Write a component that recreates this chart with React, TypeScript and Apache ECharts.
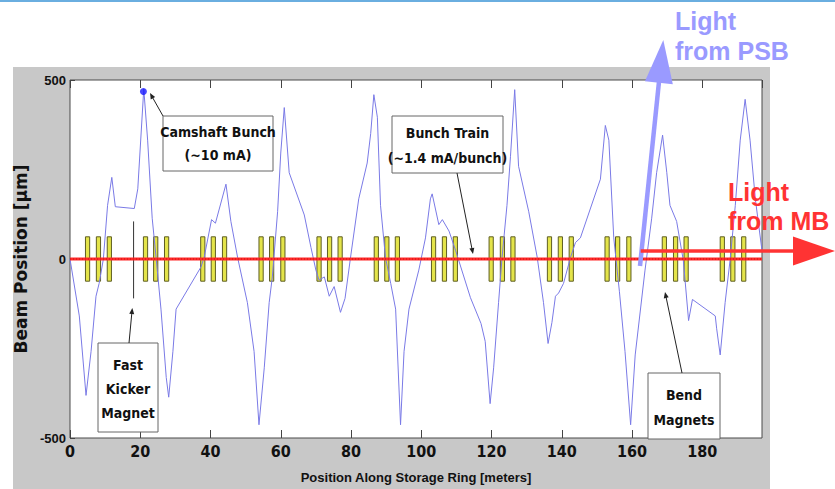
import React, { useEffect, useRef } from "react";
import * as echarts from "echarts";

// Beam trace: [position (m), beam position (µm)]
const traceX = [
  0, 2.65, 4.56, 6.0, 7.4, 8.3, 9.5, 10.7, 11.9, 12.9, 18.3, 19.3, 21.0, 22.1, 23.4, 24.5, 25.9, 27.4, 28.1, 29.3,
  30.2, 37.3, 38.2, 40.3, 41.4, 44.4, 45.8, 47.7, 50.5, 52.4, 53.8, 55.3, 56.7, 57.6, 59.1, 60.0, 61.0, 62.4, 66.7,
  68.6, 70.0, 70.9, 72.4, 73.8, 75.2, 77.0, 78.3, 79.8, 82.2, 84.6, 85.6, 86.5, 87.5, 88.4, 89.8, 91.3, 92.7, 94.1,
  95.1, 96.5, 99.3, 101.2, 102.6, 103.1, 105.0, 106.0, 107.9, 109.8, 114.0, 117.0, 118.2, 119.6, 120.6, 122.0, 123.0,
  124.4, 125.4, 126.6, 127.7, 130.6, 133.0, 134.8, 136.1, 137.2, 138.2, 139.1, 140.5, 142.5, 143.9, 145.3, 151.0,
  152.4, 153.4, 154.8, 156.4, 158.0, 159.6, 160.9, 163.7, 165.6, 167.0, 168.7, 169.9, 170.8, 172.7, 174.6, 176.1,
  177.2, 183.7, 184.1, 185.1, 186.5, 187.9, 189.4, 190.8, 192.2, 193.6, 195.1, 197.0,
];
const traceY = [
  0, -159, -381, -258, -104, -68, 0, 150, 228, 146, 141, 196, 475, 332, 114, 5, -140, -331, -386, -258,
  -140, -22, 5, 110, 100, 209, 105, 5, -122, -258, -463, -304, -122, -50, 132, 296, 423, 241, 123,
  32, -31, -59, -50, -104, -77, -149, -110, 0, 168, 268, 350, 459, 396, 150, 5, -68, -140, -463,
  -258, -140, -31, 59, 168, 182, 96, 110, 78, 23, -108, -180, -230, -404, -304, -122, 5,
  150, 287, 473, 259, 132, 5, -122, -236, -177, -104, -95, -68, 5, 46, 59, 223,
  373, 332, 59, -90, -258, -463, -268, -31, 114, 241, 346, 241, 150, 105, -4, -172,
  -113, -159, -195, -268, -122, -4, 150, 332, 446, 332, 168, 23,
];

// Bend magnet centres (m)
const magnets = [
  5.0, 8.1, 11.2, 21.5, 24.4, 27.5, 37.8, 40.8, 44.0, 54.4, 57.4, 60.6, 70.9, 73.9, 76.9, 87.2, 90.2, 93.2,
  103.5, 106.6, 109.7, 119.9, 123.1, 126.1, 136.5, 139.6, 142.7, 152.9, 155.9, 159.1, 169.2, 172.4, 175.4,
  185.7, 188.7, 191.8,
];
const magnetHalfHeight = 62;
const kickerX = 18.1;
const kickerRange = [105, -110];
const camshaftPoint = [20.9, 468];
const xTicks = { min: 0, max: 197, interval: 20 };
const yTicks = { min: -500, max: 500, interval: 500 };

const narrow = "'Liberation Sans Narrow', 'DejaVu Sans Condensed', 'Liberation Sans', sans-serif";
const sans = "'Liberation Sans', Arial, sans-serif";

function annoText(text: string, x: number, y: number) {
  return {
    type: "text",
    z: 50,
    style: {
      text,
      x,
      y,
      fill: "#111",
      font: `bold 14px ${narrow}`,
      textAlign: "center",
      textVerticalAlign: "middle",
    },
  };
}
function box(x: number, y: number, w: number, h: number) {
  return {
    type: "rect",
    z: 49,
    shape: { x, y, width: w, height: h },
    style: { fill: "#fff", stroke: "#666", lineWidth: 1 },
  };
}
function arrow(x1: number, y1: number, x2: number, y2: number, color: string, width: number, head: number, headW: number) {
  const dx = x2 - x1;
  const dy = y2 - y1;
  const len = Math.sqrt(dx * dx + dy * dy);
  const ux = dx / len;
  const uy = dy / len;
  const bx = x2 - ux * head;
  const by = y2 - uy * head;
  const px = -uy * headW;
  const py = ux * headW;
  return [
    {
      type: "line",
      z: 60,
      shape: { x1, y1, x2: bx + ux * 1, y2: by + uy * 1 },
      style: { stroke: color, lineWidth: width },
    },
    {
      type: "polygon",
      z: 61,
      shape: { points: [[x2, y2], [bx + px, by + py], [bx - px, by - py]] },
      style: { fill: color },
    },
  ];
}

export default function App() {
  const ref = useRef<HTMLDivElement>(null);
  useEffect(() => {
    if (!ref.current) return;
    const chart = echarts.init(ref.current, undefined, { renderer: "svg" });
    const trace = traceX.map((x, i) => [x, traceY[i]]);
    const tick = { inside: true, length: 8, lineStyle: { color: "#444" } };
    const option: any = {
      animation: false,
      backgroundColor: "#ffffff",
      grid: {
        left: 70,
        width: 692,
        top: 80,
        height: 367,
        show: true,
        backgroundColor: "#ffffff",
        borderColor: "#4a4a4a",
        borderWidth: 1,
      },
      xAxis: [
        {
          type: "value",
          ...xTicks,
          position: "bottom",
          axisLine: { show: false, onZero: false },
          axisTick: tick,
          splitLine: { show: false },
          axisLabel: {
            showMaxLabel: false,
            margin: 5,
            color: "#111",
            fontWeight: "bold",
            fontSize: 16,
            fontFamily: narrow,
          },
          name: "Position Along Storage Ring [meters]",
          nameLocation: "middle",
          nameGap: 33,
          nameTextStyle: { color: "#111", fontWeight: "bold", fontSize: 13, fontFamily: sans },
        },
        {
          type: "value",
          ...xTicks,
          position: "top",
          axisLine: { show: false, onZero: false },
          axisTick: tick,
          splitLine: { show: false },
          axisLabel: { show: false },
        },
      ],
      yAxis: {
        type: "value",
        ...yTicks,
        axisLine: { show: false, onZero: false },
        axisTick: { inside: true, length: 5, lineStyle: { color: "#444" } },
        splitLine: { show: false },
        axisLabel: { margin: 4, color: "#111", fontWeight: "bold", fontSize: 13, fontFamily: sans },
        name: "Beam Position [µm]",
        nameLocation: "middle",
        nameGap: 32,
        nameTextStyle: { color: "#111", fontWeight: "bold", fontSize: 17, fontFamily: "'DejaVu Sans', sans-serif" },
      },
      series: [
        {
          type: "custom",
          name: "Bend magnets",
          data: magnets.map((m) => [m, 0]),
          encode: { x: 0, y: 1 },
          renderItem: (_p: any, api: any) => {
            const x = api.value(0);
            const a = api.coord([x - 0.6, magnetHalfHeight]);
            const b = api.coord([x + 0.6, -magnetHalfHeight]);
            return {
              type: "rect",
              shape: { x: a[0], y: a[1], width: b[0] - a[0], height: b[1] - a[1] },
              style: { fill: "#e4e44a", stroke: "#5e5e22", lineWidth: 1 },
            };
          },
          z: 2,
        },
        {
          type: "line",
          name: "Kicker",
          data: [
            [kickerX, kickerRange[0]],
            [kickerX, kickerRange[1]],
          ],
          symbol: "none",
          lineStyle: { color: "#333", width: 1 },
          z: 3,
        },
        {
          type: "line",
          name: "Beam",
          data: trace,
          symbol: "none",
          lineStyle: { color: "#7a7ae6", width: 1 },
          z: 4,
        },
        {
          type: "line",
          name: "Zero",
          data: [
            [xTicks.min, 0],
            [xTicks.max, 0],
          ],
          symbol: "none",
          lineStyle: { color: "#ff2a2a", width: 3 },
          z: 5,
        },
        {
          type: "line",
          name: "Zero dots",
          data: [
            [xTicks.min, 0],
            [xTicks.max, 0],
          ],
          symbol: "none",
          lineStyle: { color: "#c41010", width: 1, type: [1, 2] },
          z: 6,
        },
        {
          type: "scatter",
          name: "Camshaft",
          data: [camshaftPoint],
          symbolSize: 7,
          itemStyle: { color: "#1a1aff" },
          z: 7,
        },
      ],
      graphic: [
        { type: "rect", z: -100, shape: { x: 13, y: 67, width: 757, height: 422 }, style: { fill: "#c8c8c8" } },
        { type: "rect", z: -99, shape: { x: 0, y: 0, width: 835, height: 2 }, style: { fill: "#6aaee0" } },
        // Camshaft annotation
        box(163, 116, 110, 55),
        annoText("Camshaft Bunch", 218, 132),
        annoText("(~10 mA)", 218, 155),
        ...arrow(163, 116, 150, 93, "#222", 1, 6, 2.5),
        // Bunch train
        box(392, 116, 111, 57),
        annoText("Bunch Train", 447.5, 133),
        annoText("(~1.4 mA/bunch)", 447.5, 158),
        ...arrow(457, 173, 473, 254, "#222", 1, 6, 2.5),
        // Fast kicker
        box(98, 343, 60, 89),
        annoText("Fast", 128, 365),
        annoText("Kicker", 128, 389),
        annoText("Magnet", 128, 413),
        ...arrow(129, 343, 132.3, 308, "#222", 1, 6, 2.5),
        // Bend magnets
        box(648, 373, 72, 66),
        annoText("Bend", 684, 395),
        annoText("Magnets", 684, 420),
        ...arrow(682, 373, 665, 292, "#222", 1, 6, 2.5),
        // Light arrows
        ...arrow(640, 266, 663.3, 40, "#9a9aff", 4.5, 43, 14),
        ...arrow(640.7, 251, 835, 251, "#ff3333", 3.5, 42, 14.5),
        {
          type: "text",
          z: 70,
          style: {
            text: "Light\nfrom PSB",
            x: 675,
            y: 6,
            fill: "#9a9aff",
            font: `bold 25px ${sans}`,
            lineHeight: 30,
            textAlign: "left",
            textVerticalAlign: "top",
          },
        },
        {
          type: "text",
          z: 70,
          style: {
            text: "Light\nfrom MB",
            x: 728,
            y: 177,
            fill: "#ff3333",
            font: `bold 25px ${sans}`,
            lineHeight: 29,
            textAlign: "left",
            textVerticalAlign: "top",
          },
        },
      ],
    };
    chart.setOption(option);
    return () => chart.dispose();
  }, []);
  return (
    <div
      ref={ref}
      style={{ position: "fixed", left: 0, top: 0, width: 835, height: 489 }}
    />
  );
}
